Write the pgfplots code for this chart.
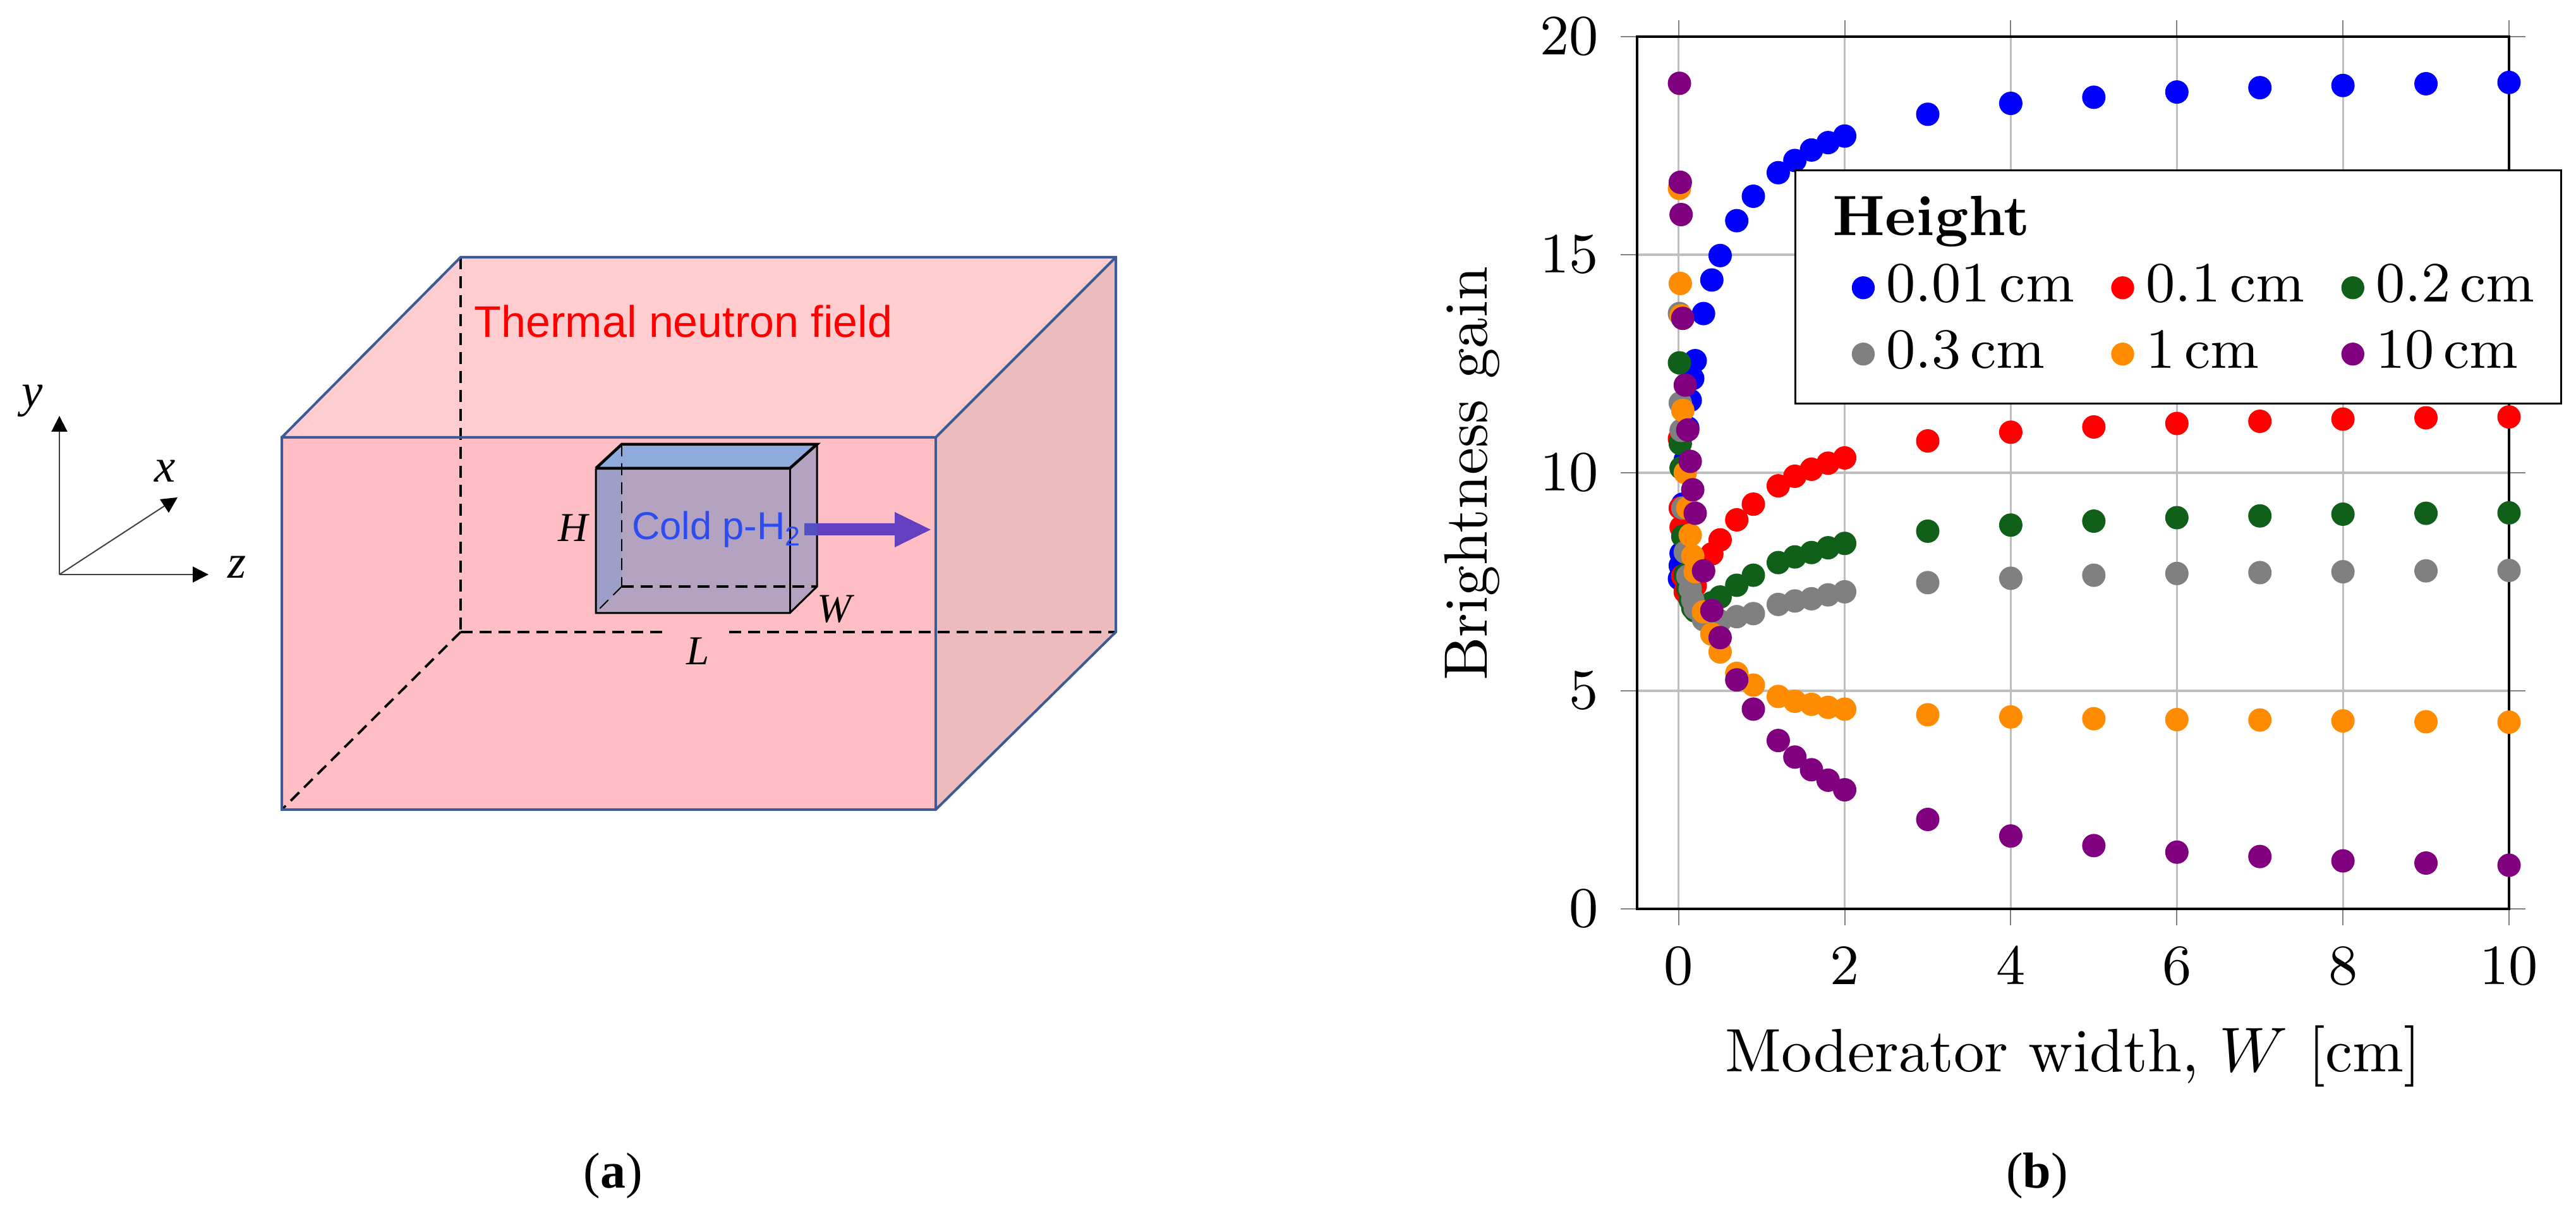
\documentclass[border=0pt]{standalone}
\usepackage{fontspec}
\usepackage{pgfplots}
\usepackage{pgfplotstable}
\pgfplotsset{compat=1.18}
\usetikzlibrary{arrows.meta}
\newfontfamily\arialfont{Liberation Sans}
\newfontfamily\timesfont{Liberation Serif}

% 1 px of the 4077x1916 reference = 0.1pt
\definecolor{hblue}{RGB}{0,0,255}
\definecolor{hred}{RGB}{255,0,0}
\definecolor{hgreen}{RGB}{17,96,25}
\definecolor{hgray}{RGB}{128,128,128}
\definecolor{horange}{RGB}{255,140,0}
\definecolor{hpurple}{RGB}{128,0,128}
\definecolor{gridgray}{RGB}{190,190,190}
\definecolor{boxline}{RGB}{60,90,150}
\definecolor{walltop}{RGB}{255,205,208}
\definecolor{wallfront}{RGB}{255,190,195}
\definecolor{wallside}{RGB}{236,187,187}
\definecolor{modfront}{RGB}{179,162,192}
\definecolor{modtop}{RGB}{143,171,219}
\definecolor{modleft}{RGB}{158,159,198}
\definecolor{beam}{RGB}{98,64,192}
\definecolor{beamin}{RGB}{82,80,195}
\definecolor{coldtext}{RGB}{43,76,240}

\pgfplotstableread{
W    h001  h01   h02   h03   h1    h10
0.01 7.57  10.78 12.52 13.65 16.52 18.93
0.02 7.87  9.19  10.67 11.60 14.34 16.66
0.03 8.15  8.75  10.11 10.97 13.60 15.92
0.05 9.28  7.63  8.54  9.19  11.43 13.54
0.08 10.29 7.27  7.66  8.18  10.00 12.01
0.11 11.03 7.20  7.35  7.63  9.19  10.98
0.14 11.66 7.25  7.08  7.34  8.57  10.26
0.17 12.16 7.33  6.90  7.08  8.09  9.61
0.2  12.57 7.41  6.83  6.89  7.73  9.07
0.3  13.65 7.75  6.85  6.63  6.81  7.75
0.4  14.42 8.14  7.02  6.60  6.30  6.84
0.5  14.98 8.46  7.15  6.60  5.89  6.22
0.7  15.78 8.92  7.42  6.70  5.40  5.25
0.9  16.34 9.28  7.65  6.77  5.13  4.58
1.2  16.88 9.70  7.94  6.98  4.87  3.86
1.4  17.16 9.92  8.07  7.06  4.76  3.48
1.6  17.40 10.08 8.17  7.11  4.69  3.19
1.8  17.57 10.22 8.28  7.20  4.62  2.95
2    17.72 10.34 8.38  7.27  4.58  2.73
3    18.22 10.73 8.66  7.48  4.45  2.05
4    18.47 10.93 8.80  7.58  4.40  1.67
5    18.61 11.05 8.89  7.65  4.36  1.45
6    18.73 11.13 8.97  7.69  4.34  1.30
7    18.83 11.18 9.01  7.71  4.33  1.20
8    18.88 11.23 9.05  7.73  4.31  1.10
9    18.92 11.26 9.07  7.75  4.29  1.05
10   18.95 11.28 9.08  7.76  4.28  1.00
}\gaintable

\pgfplotsset{
  dot/.style={only marks, mark=*, mark size=1.65pt, color=#1, mark options={solid, fill=#1, draw=#1}},
  wall/.style={draw=none, fill=#1, mark=none},
  edge/.style={draw=boxline, line width=0.4pt, mark=none},
  dash/.style={draw=black, line width=0.38pt, dash pattern=on 1.9pt off 1.1pt, mark=none},
  solidblack/.style={draw=black, line width=#1, mark=none},
  coordarrow/.style={draw=black!75, line width=0.2pt, mark=none, -{Triangle[length=2.5pt,width=2.5pt,color=black,fill=black]}},
}

\begin{document}
\begin{tikzpicture}
\path[use as bounding box] (0,0) rectangle (407.7pt,191.6pt);

% panel (a): schematic, axis units are reference pixels
\begin{axis}[
  at={(0,0)}, anchor=south west,
  width=407.7pt, height=191.6pt, scale only axis,
  hide axis, clip=false,
  xmin=0, xmax=4077, ymin=0, ymax=1916, y dir=reverse,
]
% walls
\addplot[wall=walltop] coordinates {(446,692) (729,407) (1766,407) (1766,1000) (1481,1281) (446,1281)} --cycle;
\addplot[wall=wallfront] coordinates {(446,692) (1481,692) (1481,1281) (446,1281)} --cycle;
\addplot[wall=wallside] coordinates {(1481,692) (1766,407) (1766,1000) (1481,1281)} --cycle;
% hidden edges of the field box
\addplot[dash] coordinates {(729,407) (729,1000)};
\addplot[dash] coordinates {(729,1000) (1054,1000)};
\addplot[dash] coordinates {(1154,1000) (1766,1000)};
\addplot[dash] coordinates {(729,1000) (446,1281)};
% visible edges of the field box
\addplot[edge] coordinates {(446,692) (729,407) (1766,407) (1766,1000) (1481,1281) (446,1281) (446,692) (1481,692) (1766,407)};
\addplot[edge] coordinates {(1481,692) (1481,1281)};
% moderator
\addplot[wall=modfront] coordinates {(943,741) (1250,741) (1293,703) (1293,928) (1250,970) (943,970)} --cycle;
\addplot[wall=modleft] coordinates {(943,741) (984,703) (984,928) (943,970)} --cycle;
\addplot[wall=modtop] coordinates {(943,741) (984,703) (1293,703) (1250,741)} --cycle;
\addplot[dash, line width=0.2pt] coordinates {(984,703) (984,928)};
\addplot[dash, line width=0.2pt] coordinates {(984,928) (947,965)};
\addplot[dash] coordinates {(984,928) (1293,928)};
\addplot[solidblack=0.45pt] coordinates {(943,741) (984,703) (1293,703) (1250,741) (943,741)};
\addplot[solidblack=0.3pt] coordinates {(943,741) (943,970) (1250,970) (1293,928) (1293,703)};
\addplot[solidblack=0.3pt] coordinates {(1250,741) (1250,970)};
% beam arrow
\addplot[wall=beam] coordinates {(1273,828) (1416,828) (1416,810) (1473,838) (1416,866) (1416,847) (1273,847)} --cycle;
\addplot[wall=beamin] coordinates {(1273,828) (1293,828) (1293,847) (1273,847)} --cycle;
% coordinate arrows
\addplot[coordarrow] coordinates {(94,909) (94,658)};
\addplot[coordarrow] coordinates {(94,909) (330,909)};
\addplot[coordarrow] coordinates {(94,909) (281,787)};

\node[font=\timesfont\itshape\fontsize{7.5}{9}\selectfont] at (axis cs:51,634) {y};
\node[font=\timesfont\itshape\fontsize{7.5}{9}\selectfont] at (axis cs:261,745) {x};
\node[font=\timesfont\itshape\fontsize{7.5}{9}\selectfont] at (axis cs:375,897) {z};
\node[font=\timesfont\itshape\fontsize{6.5}{8}\selectfont] at (axis cs:907,835) {H};
\node[font=\timesfont\itshape\fontsize{6.5}{8}\selectfont] at (axis cs:1321,964) {W};
\node[font=\timesfont\itshape\fontsize{6.5}{8}\selectfont] at (axis cs:1105,1030) {L};
\node[font=\arialfont\fontsize{7}{9}\selectfont, text=hred, anchor=base west, inner sep=0pt] at (axis cs:749,534) {Thermal neutron field};
\node[font=\arialfont\fontsize{6.15}{8}\selectfont, text=coldtext, anchor=base west, inner sep=0pt] at (axis cs:998,854) {Cold p-H\textsubscript{2}};
\node[font=\timesfont\fontsize{8}{10}\selectfont, anchor=base] at (axis cs:970,1880) {(\textbf{a})};
\node[font=\timesfont\fontsize{8}{10}\selectfont, anchor=base] at (axis cs:3224,1880) {(\textbf{b})};
\end{axis}

% panel (b): brightness gain
\begin{axis}[
  at={(259.1pt,47.8pt)}, anchor=south west,
  width=138pt, height=138pt, scale only axis,
  xmin=-0.5, xmax=10, ymin=0, ymax=20,
  xtick={0,2,4,6,8,10}, ytick={0,5,10,15,20},
  clip=false,
  grid=major,
  grid style={color=gridgray, line width=0.33pt},
  tick align=outside,
  major tick length=2.6pt,
  tick style={color=gray, line width=0.2pt},
  axis line style={line width=0.33pt},
  tick label style={font=\fontsize{9}{11}\selectfont},
  xlabel={Moderator width, $W$ [cm]},
  ylabel={Brightness gain},
  xlabel style={font=\fontsize{9.7}{12}\selectfont, at={(axis description cs:0.5,-0.169)}, anchor=center},
  ylabel style={font=\fontsize{9.7}{12}\selectfont, at={(axis description cs:-0.189,0.499)}, anchor=center},
  legend columns=3,
  legend cell align=left,
  legend style={
    at={(0.1804,0.848)}, anchor=north west,
    draw=black, line width=0.33pt, fill=white,
    font=\fontsize{9}{11}\selectfont,
    inner xsep=2.2pt, inner ysep=2.1pt,
    row sep=-1pt,
    /tikz/every even column/.append style={column sep=-2.9pt},
  },
]
\addlegendimage{empty legend}\addlegendentry{\hspace*{-8.5pt}\textbf{Height}\rule[-3.6pt]{0pt}{1pt}}
\addlegendimage{empty legend}\addlegendentry{}
\addlegendimage{empty legend}\addlegendentry{}
\addplot[dot=hblue] table[x=W, y=h001] {\gaintable};
\addlegendentry{0.01\,cm}
\addplot[dot=hred] table[x=W, y=h01] {\gaintable};
\addlegendentry{0.1\,cm}
\addplot[dot=hgreen] table[x=W, y=h02] {\gaintable};
\addlegendentry{0.2\,cm}
\addplot[dot=hgray] table[x=W, y=h03] {\gaintable};
\addlegendentry{0.3\,cm}
\addplot[dot=horange] table[x=W, y=h1] {\gaintable};
\addlegendentry{1\,cm}
\addplot[dot=hpurple] table[x=W, y=h10] {\gaintable};
\addlegendentry{10\,cm}
\end{axis}
\end{tikzpicture}
\end{document}
